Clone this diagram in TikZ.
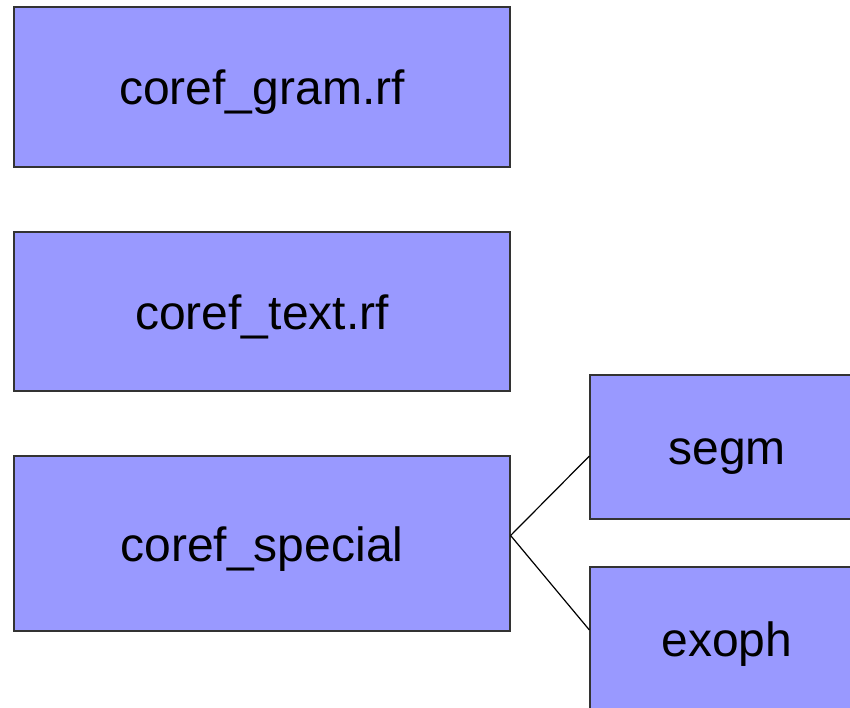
\documentclass[tikz,border=0pt]{standalone}
\usepackage{fontspec}
\setmainfont{Liberation Sans}
\usetikzlibrary{positioning}

\definecolor{boxblue}{HTML}{9999FF}

\begin{document}
\begin{tikzpicture}[x=0.5pt,y=-0.5pt,
  file/.style={draw=black!80,line width=0.6pt,fill=boxblue,minimum width=248pt,inner sep=0pt,text height=22pt,text depth=4.5pt,font=\fontsize{24}{28}\selectfont},
  sub/.style={file,minimum width=137pt,minimum height=72pt}]
 \useasboundingbox (0,0) rectangle (850,707);
 \node[file,minimum height=80pt] (gram) at (262,87) {coref\_gram.rf};
 \node[file,minimum height=79.5pt] (text) at (262,311.5) {coref\_text.rf};
 \node[file,minimum height=87.5pt] (special) at (262,543.5) {coref\_special};
 \node[sub] (segm) at (727,447) {segm};
 \node[sub] (exoph) at (727,639) {exoph};
 \draw[line width=0.6pt] ([yshift=4pt]special.east) -- ([yshift=-4.5pt]segm.west);
 \draw[line width=0.6pt] ([yshift=4pt]special.east) -- ([yshift=4.5pt]exoph.west);
\end{tikzpicture}
\end{document}
